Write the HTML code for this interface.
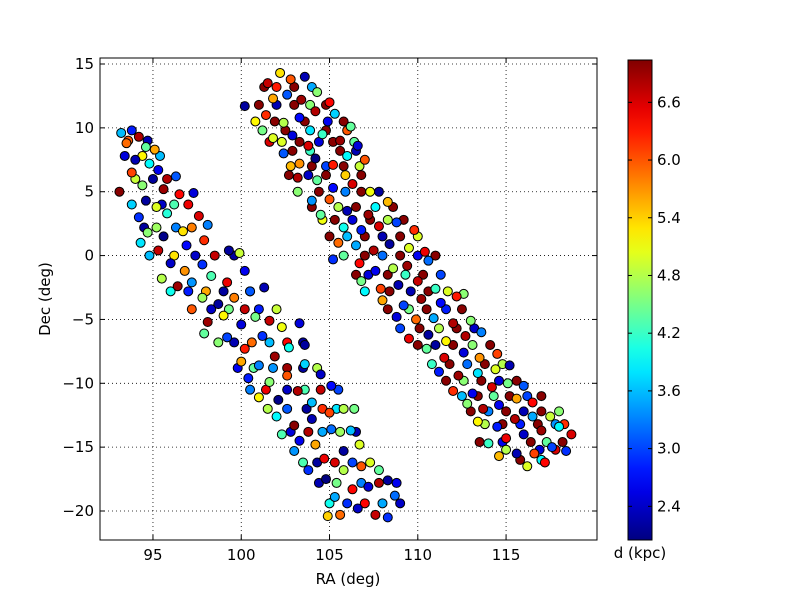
<!DOCTYPE html>
<html><head><meta charset="utf-8"><style>
body{margin:0;background:#fff}
svg{display:block;font-family:"DejaVu Sans","Liberation Sans",sans-serif}
</style></head><body>
<svg id="chart" width="800" height="600">
<defs><linearGradient id="jet" x1="0" y1="1" x2="0" y2="0"></linearGradient></defs>
<g id="grid"></g>
<g id="pts"></g>
<rect x="100" y="58" width="497" height="482" fill="none" stroke="#000" stroke-width="1"/>
<g id="ticks" font-size="15"></g>
<text x="348" y="584" font-size="15" text-anchor="middle">RA (deg)</text>
<text transform="translate(50,299) rotate(-90)" font-size="15" text-anchor="middle">Dec (deg)</text>
<rect x="628" y="60" width="24" height="480" fill="url(#jet)" stroke="#000"/>
<g id="cbt" font-size="15"></g>
<text x="640" y="558" font-size="15" text-anchor="middle">d (kpc)</text>
</svg>
<script>
const xTicks=[95,100,105,110,115];
const yTicks=[15,10,5,0,-5,-10,-15,-20];
const yTickLabels=["15","10","5","0","\u22125","\u221210","\u221215","\u221220"];
const cTicks=[2.4,3.0,3.6,4.2,4.8,5.4,6.0,6.6];
const ra=[93.2,93.8,94.2,93.5,94.6,95.1,94.0,94.8,93.8,95.3,94.4,95.6,96.3,93.1,94.6,95.2,96.5,97.3,94.2,95.8,97.6,98.1,94.7,95.6,96.7,94.3,95.3,96.9,97.9,99.3,99.9,96.0,96.8,97.8,95.5,96.4,97.2,98.3,99.2,100.2,97.8,98.7,99.6,100.5,101.3,98.1,99.0,100.0,100.8,101.6,97.9,99.2,100.2,101.2,102.3,103.3,100.0,101.0,101.9,102.7,103.6,100.4,101.6,102.6,103.6,104.5,101.0,102.1,103.2,104.0,105.1,102.0,103.0,104.0,105.0,105.8,102.3,103.3,104.2,105.1,106.2,103.0,104.7,105.8,106.7,103.8,104.8,105.8,106.8,107.8,105.3,106.3,107.2,108.3,108.7,105.6,106.6,107.6,108.3,104.9,
101.5,102.2,102.8,103.6,101.8,102.6,103.4,104.3,105.0,100.2,101.4,102.4,103.3,104.2,105.3,106.2,101.8,102.9,103.8,104.6,105.6,106.6,102.4,103.3,104.2,105.2,106.0,107.0,103.2,104.3,105.2,106.3,107.3,104.0,105.0,106.0,107.2,108.3,104.5,105.8,106.8,107.8,108.8,109.8,105.5,106.5,107.5,108.4,109.5,110.4,105.2,106.7,107.6,108.6,109.4,110.6,106.8,107.9,108.9,110.0,111.0,108.0,109.2,110.2,111.3,112.2,108.8,109.9,110.9,112.0,113.0,109.5,110.6,111.6,112.7,113.6,110.5,111.5,112.6,113.5,114.5,111.2,112.3,113.4,114.4,115.2,112.0,113.1,114.2,115.1,116.0,112.8,113.7,114.6,115.6,116.5,113.4,114.5,115.5,116.5,117.5,114.0,115.0,116.0,117.0,118.0,114.6,115.6,116.6,117.6,118.7,118.4,116.2,117.2];
const dec=[9.6,9.8,9.3,8.8,8.5,8.3,7.5,7.2,6.5,6.7,5.5,5.2,6.2,5.0,4.3,3.8,4.8,4.9,3.0,3.3,3.1,2.4,1.8,1.5,1.9,1.0,0.4,0.8,1.2,0.4,0.2,-0.6,-1.2,-0.7,-1.8,-2.4,-2.1,-1.6,-2.1,-1.2,-3.3,-3.8,-3.3,-2.8,-2.5,-5.2,-4.7,-5.4,-4.8,-5.1,-6.1,-6.4,-7.3,-6.3,-5.6,-5.3,-8.3,-8.6,-7.9,-7.2,-7.0,-9.6,-9.9,-9.4,-8.5,-9.3,-11.1,-11.3,-10.6,-11.5,-10.2,-12.6,-13.3,-12.8,-12.3,-12.0,-14.0,-14.5,-14.8,-13.6,-13.7,-15.3,-15.9,-15.3,-14.8,-16.8,-17.5,-16.8,-16.5,-16.8,-18.9,-18.3,-18.1,-17.6,-18.8,-20.3,-19.8,-20.3,-20.5,-20.4,
13.5,14.3,13.8,14.0,12.3,12.6,12.2,12.8,12.0,11.7,11.0,10.4,10.8,11.3,11.1,10.1,9.2,9.4,8.6,9.5,9.0,8.6,8.0,7.2,7.6,7.1,7.8,7.5,6.1,5.9,5.3,5.6,5.0,4.3,4.4,3.5,3.2,4.2,3.2,2.2,2.0,2.3,2.6,2.0,1.0,0.8,0.4,0.9,0.6,0.3,-0.3,-0.6,-1.2,-1.0,-0.8,-0.4,-2.0,-2.6,-2.3,-2.0,-2.6,-3.5,-3.9,-3.4,-3.7,-3.2,-4.8,-5.0,-4.9,-5.3,-5.1,-6.5,-6.2,-6.7,-6.3,-6.0,-7.3,-8.0,-7.6,-8.0,-7.7,-9.1,-9.4,-9.2,-8.9,-8.6,-10.6,-10.8,-10.3,-10.0,-10.2,-11.6,-12.0,-11.7,-11.2,-11.5,-13.0,-13.4,-12.8,-12.6,-12.6,-14.7,-14.3,-14.0,-13.7,-13.4,-15.7,-15.5,-15.5,-15.0,-14.0,-15.3,-16.5,-16.2];
const dist=[3.6,2.8,6.8,5.9,4.4,5.6,2.3,3.9,6.1,2.6,4.6,6.9,3.1,7.0,2.2,5.0,6.4,2.5,2.9,4.1,6.6,3.3,4.6,2.1,5.3,3.8,6.7,2.7,6.2,2.2,4.9,2.4,5.7,2.9,4.8,6.9,3.4,4.3,6.5,2.6,4.7,2.2,5.8,3.1,2.3,6.9,5.2,2.5,4.5,6.7,4.4,3.0,6.3,2.9,5.1,2.5,5.6,3.3,6.9,4.0,2.2,2.8,4.6,6.0,3.7,2.4,5.2,2.1,6.8,3.6,2.7,3.9,7.0,2.3,6.1,4.8,4.3,2.6,5.6,3.2,3.6,3.4,6.5,2.2,5.0,2.9,2.0,4.8,6.0,4.4,3.5,6.4,2.5,2.2,3.2,5.9,2.4,6.7,2.9,5.4,
6.7,5.3,6.0,2.3,5.6,3.1,6.9,4.6,6.4,2.2,6.2,4.8,2.7,6.8,3.7,4.4,5.0,2.5,6.6,4.2,6.9,2.5,3.1,5.7,2.0,6.3,3.9,6.0,6.8,4.4,2.7,6.6,5.1,3.4,6.0,2.3,6.9,5.5,4.4,4.0,2.8,6.6,3.0,6.2,5.9,3.5,6.8,2.2,5.0,6.5,2.9,6.4,2.6,4.8,6.9,3.2,4.5,6.1,2.3,6.7,4.2,5.6,3.0,6.9,2.7,6.3,2.5,5.9,3.5,6.8,4.6,6.5,2.2,5.2,6.8,3.3,4.4,6.6,2.5,5.7,6.1,2.8,6.9,3.8,5.0,2.3,6.2,2.6,6.6,4.5,3.1,4.6,6.8,2.6,5.6,6.4,5.2,2.8,6.8,3.5,4.9,4.2,6.5,2.4,6.9,3.9,5.5,2.3,6.1,3.0,6.6,2.9,5.0,6.4];
const raB=[101.3,102.0,103.0,104.0, 101.0,102.0,103.0,103.9,104.8, 100.8,101.9,103.6,104.9,105.8, 101.2,102.5,103.9,104.8,106.0, 101.6,102.3,103.3,104.4,105.2,106.4, 102.9,103.9,105.6,106.5, 102.8,104.0,104.8,105.8,106.7, 102.7,103.8,104.8,105.9,106.8, 103.2,104.4,105.9,106.8,107.8, 104.0,105.5,106.5,107.6,108.6, 104.6,105.3,106.3,107.3,108.3,109.2, 105.0,106.0,107.0,108.0,109.0,110.0, 105.8,107.0,108.0,109.0,110.0,111.0, 106.5,107.2,108.3,109.3,110.3,111.3, 107.0,108.4,109.6,110.6,111.7,112.6, 108.3,109.5,110.5,111.6,112.5, 109.0,110.1,111.2,112.2,113.2, 110.0,111.0,112.0,113.1,114.1, 110.8,111.8,112.8,113.8,114.8, 111.6,112.6,113.6,114.6,115.6, 112.5,113.4,114.3,115.2,116.2,117.0, 113.0,114.0,115.0,116.0,117.0,118.0, 113.8,114.8,115.8,116.8,117.8,118.3, 113.5,114.8,116.4,117.3,118.2, 115.0,116.9,117.8, 115.8,117.0,
93.6,94.7, 93.4,94.4,95.4, 94.0,95.0,95.8, 93.8,95.5,96.2,97.0, 94.5,95.2,96.3,97.2, 94.8,96.2,97.4,98.5,99.6, 96.0,97.0,98.0,99.0,100.5, 97.2,98.3,99.3,100.2,101.0,102.0, 98.7,99.6,100.6,101.6,102.6,103.5, 99.8,100.7,101.8,102.6,103.5,104.3, 100.5,101.4,102.6,103.6,104.5,105.5, 101.5,102.6,103.7,104.6,105.4,106.4, 102.8,103.8,104.6,105.6,106.5, 103.5,104.3,105.3,106.3,107.3, 104.4,105.4,106.8,107.8,108.8, 105.0,106.0,107.0,108.0,109.0];
const decB=[13.2,13.2,13.2,13.2, 11.8,11.8,11.8,11.8,11.8, 10.5,10.5,10.5,10.5,10.5, 9.8,9.8,9.8,9.8,9.8, 8.9,8.9,8.9,8.9,8.9,8.9, 8.2,8.2,8.2,8.2, 7.0,7.0,7.0,7.0,7.0, 6.3,6.3,6.3,6.3,6.3, 5.0,5.0,5.0,5.0,5.0, 3.8,3.8,3.8,3.8,3.8, 2.8,2.8,2.8,2.8,2.8,2.8, 1.5,1.5,1.5,1.5,1.5,1.5, 0.0,0.0,0.0,0.0,0.0,0.0, -1.5,-1.5,-1.5,-1.5,-1.5,-1.5, -2.8,-2.8,-2.8,-2.8,-2.8,-3.0, -4.2,-4.2,-4.2,-4.2,-4.2, -5.7,-5.7,-5.7,-5.7,-5.7, -7.0,-7.0,-7.0,-7.0,-7.0, -8.5,-8.5,-8.5,-8.5,-8.5, -9.8,-9.8,-9.8,-9.8,-9.8, -11.0,-11.0,-11.0,-11.0,-11.0,-11.0, -12.2,-12.2,-12.2,-12.2,-12.2,-12.2, -13.2,-13.2,-13.2,-13.2,-13.2,-13.2, -14.6,-14.6,-14.6,-14.6,-14.6, -15.2,-15.2,-15.2, -16.0,-16.0,
9.0,9.0, 7.8,7.8,7.8, 6.0,6.0,6.0, 4.0,4.0,4.0,4.0, 2.2,2.2,2.2,2.2, 0.0,0.0,0.0,0.0,0.0, -2.8,-2.8,-2.8,-2.8,-2.8, -4.2,-4.2,-4.2,-4.2,-4.2,-4.2, -6.8,-6.8,-6.8,-6.8,-6.8,-6.8, -8.8,-8.8,-8.8,-8.8,-8.8,-8.8, -10.5,-10.5,-10.5,-10.5,-10.5,-10.5, -12.0,-12.0,-12.0,-12.0,-12.0,-12.0, -13.8,-13.8,-13.8,-13.8,-13.8, -16.2,-16.2,-16.2,-16.2,-16.2, -17.8,-17.8,-17.8,-17.8,-17.8, -19.4,-19.4,-19.4,-19.4,-19.4];
const distB=[7.0,6.3,7.0,3.5, 7.0,2.3,7.0,4.6,7.0, 5.2,7.0,7.0,2.6,7.0, 4.5,7.0,3.8,7.0,6.0, 6.6,5.0,7.0,2.5,7.0,4.4, 7.0,4.2,7.0,2.3, 5.5,7.0,3.0,7.0,4.9, 7.0,2.4,7.0,5.4,7.0, 4.6,7.0,3.3,7.0,2.2, 7.0,4.8,7.0,3.9,7.0, 5.1,7.0,2.5,7.0,4.8,7.0, 7.0,3.6,7.0,2.3,7.0,5.0, 4.4,7.0,3.2,7.0,2.6,7.0, 7.0,2.5,7.0,4.2,7.0,3.0, 3.9,7.0,2.3,7.0,5.0,4.6, 7.0,4.5,7.0,2.8,7.0, 3.0,7.0,4.8,7.0,2.4, 7.0,2.2,7.0,4.6,7.0, 4.2,7.0,3.2,7.0,4.8, 7.0,4.6,7.0,2.5,7.0, 3.6,7.0,4.4,7.0,3.0,7.0, 7.0,3.3,7.0,2.3,7.0,4.6, 4.8,7.0,2.8,7.0,3.4,6.2, 7.0,2.6,7.0,4.4,7.0, 4.8,2.5,6.6, 7.0,3.9,
6.0,2.3, 2.5,5.2,3.6, 4.9,2.2,6.8, 3.7,2.4,4.3,6.5, 2.2,4.7,3.3,5.8, 3.6,5.3,2.4,6.7,2.2, 4.0,2.8,5.6,2.2,3.8, 6.0,2.4,4.5,6.7,2.8,4.9, 4.6,2.3,5.9,3.6,6.4,2.2, 2.6,4.4,3.4,6.9,2.2,4.8, 3.3,6.5,2.4,4.3,6.7,3.0, 4.8,3.1,2.2,6.2,3.8,4.5, 2.5,6.8,3.5,4.7,2.3, 4.3,2.2,6.6,3.0,5.0, 2.3,4.5,3.3,6.8,2.6, 4.0,2.9,6.4,3.5,2.4];
const NS="http://www.w3.org/2000/svg";
const X0=100,X1=597,Y0=540,Y1=58,XMIN=92,XMAX=120.15,YMIN=-22.27,YMAX=15.47,CMIN=2.05,CMAX=7.04;
const sx=v=>X0+(v-XMIN)/(XMAX-XMIN)*(X1-X0);
const sy=v=>Y0-(v-YMIN)/(YMAX-YMIN)*(Y0-Y1);
const sc=v=>540-(v-CMIN)/(CMAX-CMIN)*480;
function jet(t){t=Math.max(0,Math.min(1,t));const c=v=>Math.round(255*Math.max(0,Math.min(1,v)));
return `rgb(${c(1.5-Math.abs(4*t-3))},${c(1.5-Math.abs(4*t-2))},${c(1.5-Math.abs(4*t-1))})`;}
function mk(tag,attrs,parent){const e=document.createElementNS(NS,tag);for(const k in attrs)e.setAttribute(k,attrs[k]);parent.appendChild(e);return e;}
const grad=document.getElementById('jet');
for(let i=0;i<=20;i++)mk('stop',{offset:i/20,'stop-color':jet(i/20)},grad);
const grid=document.getElementById('grid'),ticks=document.getElementById('ticks'),cbt=document.getElementById('cbt'),pts=document.getElementById('pts');
xTicks.forEach(v=>{const x=sx(v);
const g=mk('line',{x1:x,x2:x,y1:Y1,y2:Y0,stroke:'#000','stroke-dasharray':'1,3','stroke-width':0.8},grid);


mk('line',{x1:x,x2:x,y1:Y0,y2:Y0-5,stroke:'#000'},ticks);mk('line',{x1:x,x2:x,y1:Y1,y2:Y1+5,stroke:'#000'},ticks);
const t=mk('text',{x:x,y:Y0+20,'text-anchor':'middle'},ticks);t.textContent=v;

});
yTicks.forEach((v,i)=>{const y=sy(v);
const g=mk('line',{x1:X0,x2:X1,y1:y,y2:y,stroke:'#000','stroke-dasharray':'1,3','stroke-width':0.8},grid);


mk('line',{x1:X0,x2:X0+5,y1:y,y2:y,stroke:'#000'},ticks);mk('line',{x1:X1,x2:X1-5,y1:y,y2:y,stroke:'#000'},ticks);
const t=mk('text',{x:X0-6,y:y+5,'text-anchor':'end'},ticks);t.textContent=yTickLabels[i];

});
cTicks.forEach(v=>{const y=sc(v);
mk('line',{x1:628,x2:632,y1:y,y2:y,stroke:'#000'},cbt);mk('line',{x1:652,x2:648,y1:y,y2:y,stroke:'#000'},cbt);
const t=mk('text',{x:657,y:y+5},cbt);t.textContent=v.toFixed(1);

});
function drawSet(R,D,K){R.forEach((r,i)=>{const c=mk('circle',{cx:sx(r),cy:sy(D[i]),r:4.5,fill:jet((K[i]-CMIN)/(CMAX-CMIN)),stroke:'#000','stroke-width':1},pts);

});}
drawSet(raB,decB,distB);
drawSet(ra,dec,dist);
</script>
</body></html>
